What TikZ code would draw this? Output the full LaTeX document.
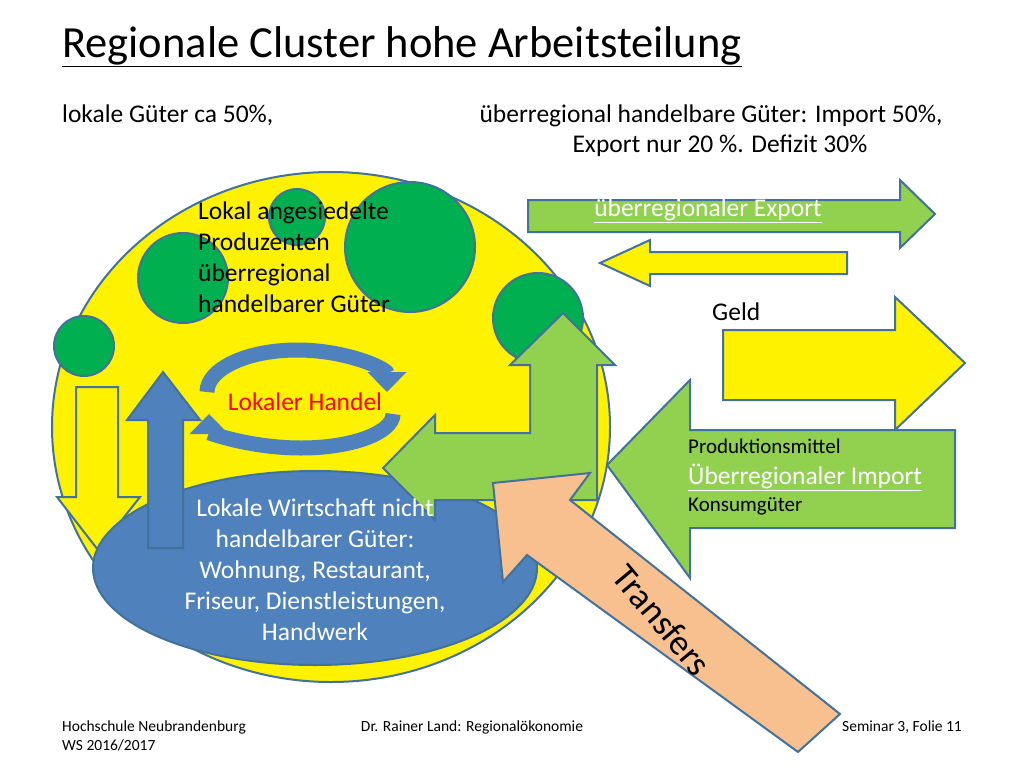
\documentclass[tikz,border=0pt]{standalone}
\usepackage{fontspec}
\setmainfont{Carlito}
\usetikzlibrary{arrows.meta}
\definecolor{ol}{HTML}{41719C}
\definecolor{grn}{HTML}{00B050}
\definecolor{lgrn}{HTML}{92D050}
\definecolor{blu}{HTML}{4F81BD}
\definecolor{org}{HTML}{F8C08F}
\begin{document}
\begin{tikzpicture}[x=1pt,y=-1pt,
  shp/.style={draw=ol,line width=2pt,line join=miter},
  txt/.style={inner sep=0pt,anchor=base west,font=\fontsize{25.5}{30}\selectfont},
  ft/.style={inner sep=0pt,anchor=base west,font=\fontsize{15.5}{18}\selectfont}]
\useasboundingbox (0,0) rectangle (1024,768);
% title
\node[inner sep=0pt,anchor=base west,font=\fontsize{44.5}{50}\selectfont] (title) at (62,57) {\underline{Regionale Cluster hohe Arbeitsteilung}};
\node[txt] (lok) at (62,122) {lokale Güter ca 50\%,};
\node[txt,anchor=base] (ueb1) at (711,122) {überregional handelbare Güter: Import 50\%,};
\node[txt,anchor=base] (ueb2) at (720,152) {Export nur 20 \%. Defizit 30\%};
% yellow ellipse
\fill[yellow,shp] (331,427) ellipse [x radius=279,y radius=255];
% circles
\foreach \x/\y/\r in {84/346/30,183/278/45,297/217/28,410/247/65,538/318/45}
  \fill[grn,shp] (\x,\y) circle (\r);
\node[txt,align=left,anchor=north west,font=\fontsize{25.5}{31}\selectfont] (prod) at (198,202) {Lokal angesiedelte\\Produzenten\\überregional\\handelbarer Güter};
% circular arrows
\draw[blu,line width=15pt,-{Triangle[length=20pt,width=38pt]}] (207,392) arc[start angle=180,end angle=360,x radius=90,y radius=42];
\draw[blu,line width=15pt,-{Triangle[length=20pt,width=38pt]}] (393,414) arc[start angle=0,end angle=180,x radius=92,y radius=34];
\node[inner sep=0pt,font=\fontsize{25.5}{30}\selectfont,text=red] (handel) at (305,402) {Lokaler Handel};
% yellow down arrow
\fill[yellow,shp] (76,387) -- (118,387) -- (118,497) -- (140,497) -- (98,550) -- (57,497) -- (76,497) -- cycle;
% blue ellipse
\fill[blu,shp] (315,568) ellipse [x radius=222,y radius=97];
% blue up arrow
\fill[blu,shp] (148,548) -- (148,420) -- (127,420) -- (163,372) -- (200,420) -- (183,420) -- (183,548) -- cycle;
% green bent arrow
\fill[lgrn,shp] (597,500) -- (597,365) -- (615,365) -- (563,313) -- (510,365) -- (530,365) -- (530,433) -- (435,433) -- (435,415) -- (383,468) -- (435,520) -- (435,500) -- cycle;
\node[align=center,inner sep=0pt,text=white,font=\fontsize{25.5}{31}\selectfont] (lw) at (315,570) {Lokale Wirtschaft nicht\\handelbarer Güter:\\Wohnung, Restaurant,\\Friseur, Dienstleistungen,\\Handwerk};
% right side arrows
\fill[lgrn,shp] (528,200) -- (900,200) -- (900,180) -- (935,214) -- (900,248) -- (900,232) -- (528,232) -- cycle;
\node[inner sep=0pt,anchor=base,text=white,font=\fontsize{25.5}{30}\selectfont] (exp) at (708,216) {\underline{überregionaler Export}};
\fill[yellow,shp] (847,252) -- (650,252) -- (650,240) -- (600,263) -- (650,286) -- (650,274) -- (847,274) -- cycle;
\node[txt] (geld) at (712,320) {Geld};
\fill[yellow,shp] (723,330) -- (895,330) -- (895,297) -- (965,363) -- (895,430) -- (895,400) -- (723,400) -- cycle;
\fill[lgrn,shp] (955,430) -- (690,430) -- (690,380) -- (607,465) -- (690,578) -- (690,528) -- (955,528) -- cycle;
\node[inner sep=0pt,anchor=base west,font=\fontsize{21}{24}\selectfont] (pm) at (688,453) {Produktionsmittel};
\node[inner sep=0pt,anchor=base west,text=white,font=\fontsize{25.5}{30}\selectfont] (imp) at (688,484) {\underline{Überregionaler Import}};
\node[inner sep=0pt,anchor=base west,font=\fontsize{21}{24}\selectfont] (kg) at (688,511) {Konsumgüter};
% transfers arrow
\fill[org,shp] (840,714) -- (570,500) -- (590,473) -- (493,483) -- (503,582) -- (527,555) -- (798,752) -- cycle;
\node[inner sep=0pt,rotate=-50,font=\fontsize{36}{40}\selectfont] (tr) at (662,620) {Transfers};
% footer
\node[ft] (f1) at (62,731) {Hochschule Neubrandenburg};
\node[ft] (f2) at (62,750) {WS 2016/2017};
\node[ft,anchor=base] (f3) at (472,731) {Dr. Rainer Land: Regionalökonomie};
\node[ft,anchor=base east] (f4) at (962,731) {Seminar 3, Folie 11};
\end{tikzpicture}
\end{document}
